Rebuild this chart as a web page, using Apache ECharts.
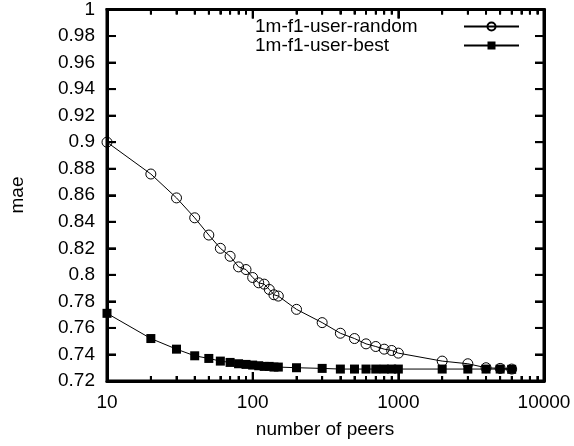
<!DOCTYPE html>
<html>
<head>
<meta charset="utf-8">
<script src="https://cdn.jsdelivr.net/npm/echarts@6/dist/echarts.min.js"></script>
<style>
html,body{margin:0;padding:0;background:#fff;}
#chart{width:574px;height:446px;}
</style>
</head>
<body>
<div id="chart"></div>
<script>
const peers = [10,20,30,40,50,60,70,80,90,100,110,120,130,140,150,200,300,400,500,600,700,800,900,1000,2000,3000,4000,5000,6000];
const randomMae = [0.900,0.876,0.858,0.843,0.830,0.820,0.814,0.806,0.804,0.798,0.794,0.793,0.789,0.785,0.784,0.774,0.764,0.756,0.752,0.748,0.746,0.744,0.743,0.741,0.735,0.733,0.730,0.7295,0.729];
const bestMae = [0.771,0.752,0.744,0.739,0.737,0.735,0.734,0.733,0.7325,0.732,0.7315,0.731,0.731,0.7305,0.7305,0.730,0.7295,0.729,0.729,0.729,0.729,0.729,0.729,0.729,0.729,0.729,0.729,0.729,0.7288];
const seriesNames = ['1m-f1-user-random','1m-f1-user-best'];
const xAxisTitle = 'number of peers';
const yAxisTitle = 'mae';
const majorTicks = [10,100,1000,10000];
const minorTicks = [20,30,40,50,60,70,80,90,200,300,400,500,600,700,800,900,2000,3000,4000,5000,6000,7000,8000,9000];
const yTicks = [0.72,0.74,0.76,0.78,0.8,0.82,0.84,0.86,0.88,0.9,0.92,0.94,0.96,0.98,1];

const FONT = 'Liberation Sans, Helvetica, Arial, sans-serif';
const FS = 19;
const X_MIN = 10, X_MAX = 10000, Y_MIN = 0.72, Y_MAX = 1;
const pairs = (ys) => peers.map((p, i) => [p, ys[i]]);

const baseX = (pos, showLine, ticks, len, withLabels) => ({
  type: 'log', min: X_MIN, max: X_MAX, position: pos,
  axisLine: { show: showLine, lineStyle: { color: '#000', width: 3 } },
  axisTick: { show: true, inside: true, length: len, customValues: ticks, lineStyle: { color: '#000', width: 2 } },
  axisLabel: withLabels ? { show: true, color: '#000', fontSize: FS, fontFamily: FONT, margin: 12, formatter: (v) => String(v) } : { show: false },
  splitLine: { show: false }
});
const xAxes = [
  baseX('bottom', true, majorTicks, 9, true),
  baseX('bottom', false, minorTicks, 5, false),
  baseX('top', true, majorTicks, 9, false),
  baseX('top', false, minorTicks, 5, false)
];

const baseY = (pos, withLabels) => ({
  type: 'value', min: Y_MIN, max: Y_MAX, interval: 0.02, position: pos,
  axisLine: { show: true, lineStyle: { color: '#000', width: 3 } },
  axisTick: { show: true, inside: true, length: 9, lineStyle: { color: '#000', width: 2 } },
  axisLabel: withLabels ? { show: true, color: '#000', fontSize: FS, fontFamily: FONT, margin: 12 } : { show: false },
  splitLine: { show: false }
});
const yAxes = [baseY('left', true), baseY('right', false)];

const tickLine = (x1, y1, x2, y2) => ({ type: 'line', shape: { x1, y1, x2, y2 }, style: { stroke: '#000', lineWidth: 2 } });
const xTickSeries = (ticks, len) => ({
  type: 'custom', silent: true, z: 5,
  data: ticks.map(v => [v, Y_MIN]),
  renderItem: (params, api) => {
    const v = api.value(0);
    const b = api.coord([v, Y_MIN]);
    const t = api.coord([v, Y_MAX]);
    return { type: 'group', children: [tickLine(b[0], b[1], b[0], b[1] - len), tickLine(t[0], t[1], t[0], t[1] + len)] };
  }
});
const yTickSeries = (ticks, len) => ({
  type: 'custom', silent: true, z: 5,
  data: ticks.map(v => [X_MIN, v]),
  renderItem: (params, api) => {
    const v = api.value(1);
    const l = api.coord([X_MIN, v]);
    const r = api.coord([X_MAX, v]);
    return { type: 'group', children: [tickLine(l[0], l[1], l[0] + len, l[1]), tickLine(r[0], r[1], r[0] - len, r[1])] };
  }
});

const chart = echarts.init(document.getElementById('chart'));
chart.setOption({
  animation: false,
  backgroundColor: '#fff',
  grid: { left: 107, right: 30, top: 9, bottom: 65, show: true, borderColor: '#000', borderWidth: 3, backgroundColor: 'rgba(0,0,0,0)' },
  xAxis: xAxes,
  yAxis: yAxes,
  legend: {
    orient: 'vertical', left: 250, top: 12, align: 'right',
    itemWidth: 55, itemHeight: 10, itemGap: 0,
    data: seriesNames,
    formatter: (name) => '{a|' + name + '}',
    textStyle: { color: '#000', fontSize: FS, fontFamily: FONT,
      rich: { a: { width: 204, lineHeight: 20, align: 'left', color: '#000', fontSize: FS, fontFamily: FONT } } }
  },
  graphic: [
    { type: 'text', x: 325, y: 430, style: { text: xAxisTitle, align: 'center', verticalAlign: 'middle', fill: '#000', font: FS + 'px ' + FONT } },
    { type: 'text', x: 18, y: 195, rotation: Math.PI / 2, style: { text: yAxisTitle, align: 'center', verticalAlign: 'middle', fill: '#000', font: FS + 'px ' + FONT } }
  ],
  series: [
    {
      name: seriesNames[0], type: 'line',
      data: pairs(randomMae),
      symbol: 'circle', symbolSize: 10,
      lineStyle: { color: '#000', width: 1 },
      itemStyle: { color: 'rgba(0,0,0,0)', borderColor: '#000', borderWidth: 1 }
    },
    {
      name: seriesNames[1], type: 'line',
      data: pairs(bestMae),
      symbol: 'rect', symbolSize: 9,
      lineStyle: { color: '#000', width: 1 },
      itemStyle: { color: '#000' }
    },
    xTickSeries(majorTicks, 9),
    xTickSeries(minorTicks, 5),
    yTickSeries(yTicks, 9)
  ]
});
</script>
</body>
</html>
